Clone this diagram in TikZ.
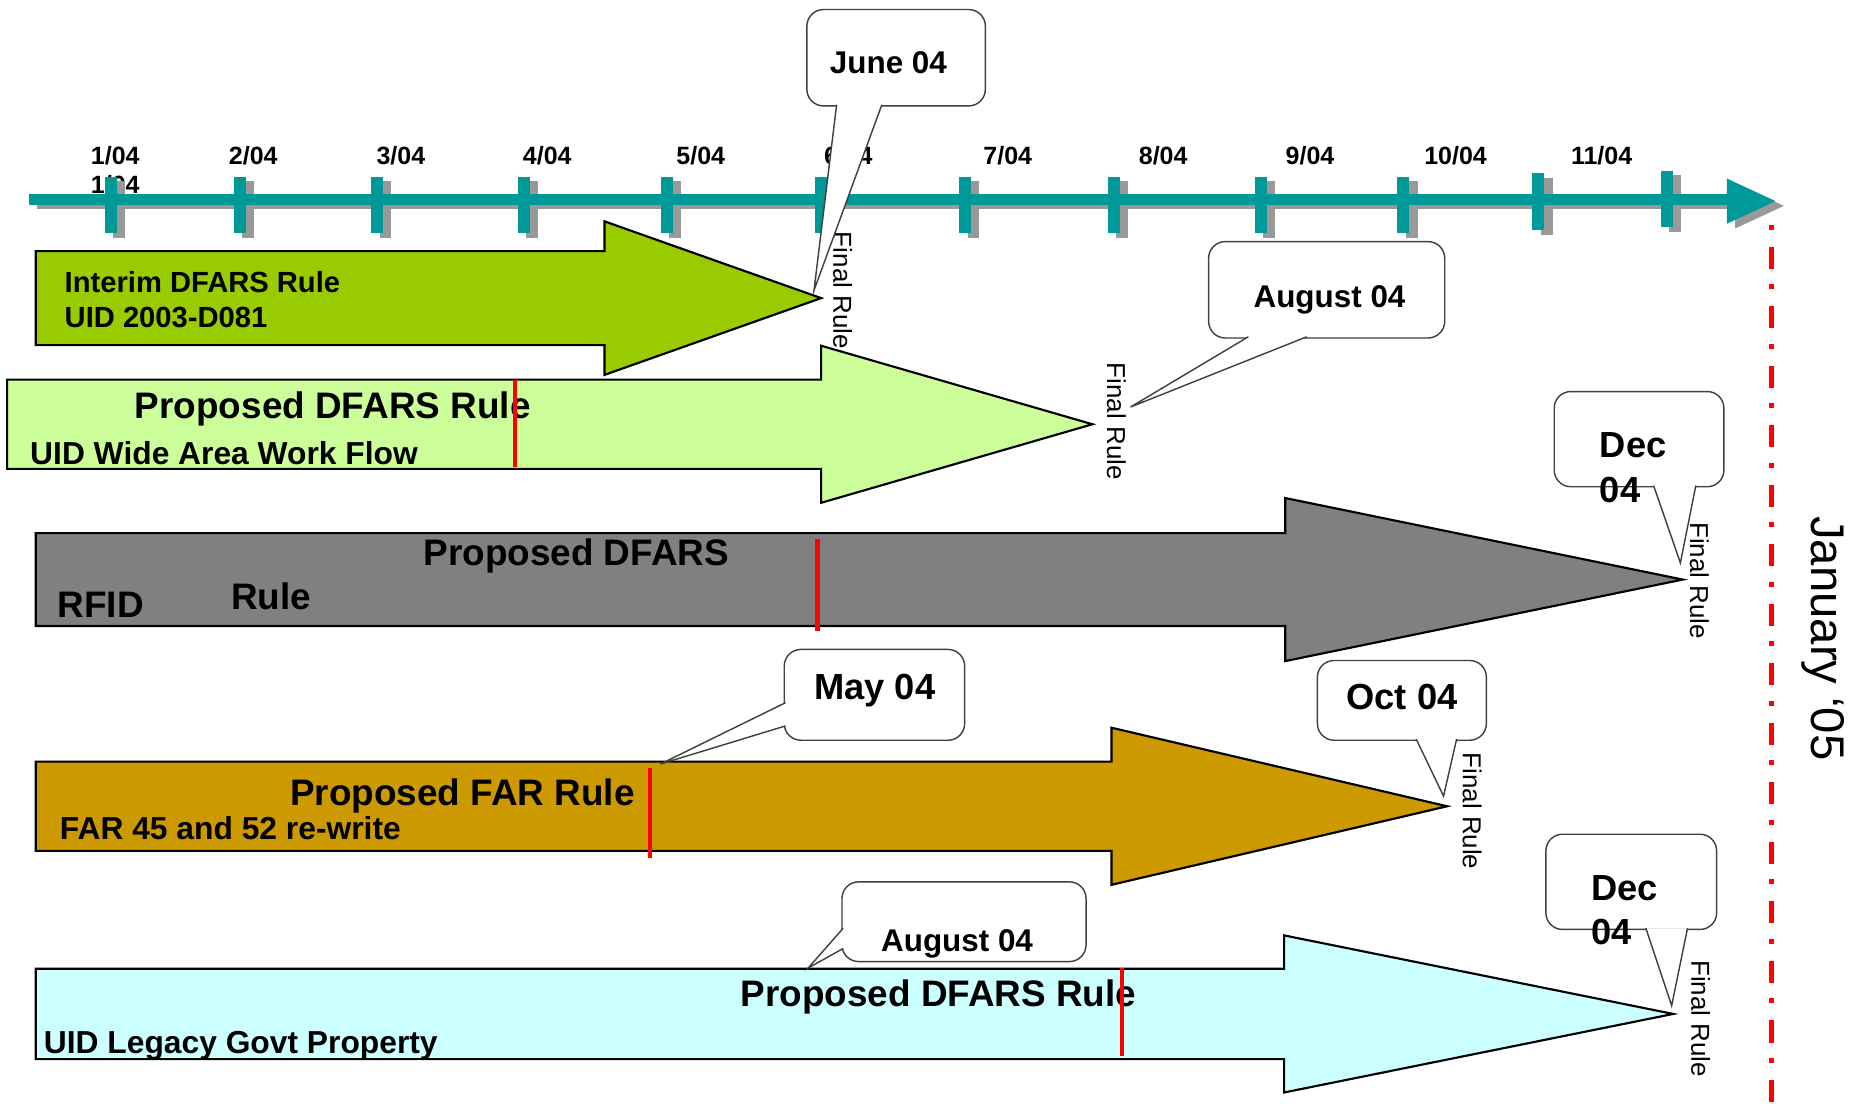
\documentclass[tikz,border=0pt]{standalone}
\usepackage{fontspec}
\setmainfont{Liberation Sans}
\definecolor{axisteal}{HTML}{009999}
\definecolor{interim}{HTML}{99CC00}
\definecolor{widearea}{HTML}{CCFF99}
\definecolor{rfidgrey}{HTML}{808080}
\definecolor{fargold}{HTML}{CC9900}
\definecolor{legacy}{HTML}{CCFFFF}
\begin{document}
\begin{tikzpicture}[x=0.5pt,y=-0.5pt,
  axshadow/.style={fill=black!40},
  axfill/.style={fill=axisteal},
  blk/.style={draw=black,line width=0.9pt},
  marker/.style={draw=red,line width=1.8pt},
  callbox/.style={draw=black!75,fill=white,line width=0.6pt,rounded corners=7pt},
  callptr/.style={draw=black!75,fill=white,line width=0.6pt},
  month/.style={font=\bfseries\fontsize{10.5}{12}\selectfont,anchor=base west,inner sep=0pt},
  titletxt/.style={font=\bfseries\fontsize{15.5}{18}\selectfont,anchor=base west,inner sep=0pt},
  subtxt/.style={font=\bfseries\fontsize{13.35}{16}\selectfont,anchor=base west,inner sep=0pt},
  smalltxt/.style={font=\bfseries\fontsize{12.25}{14}\selectfont,anchor=base west,inner sep=0pt},
  datetxt/.style={font=\bfseries\fontsize{13.2}{15}\selectfont,anchor=base west,inner sep=0pt},
  bigdate/.style={font=\bfseries\fontsize{15.25}{18}\selectfont,anchor=base west,inner sep=0pt},
  finalrule/.style={font=\fontsize{10.9}{12}\selectfont,rotate=-90,inner sep=0pt}]
\def\blockarrow#1#2#3#4#5#6#7{\filldraw[blk,fill=#1] (#2,#3) -- (#5,#3) -- (#5,{(#3+#4)/2-#6}) -- (#7,{(#3+#4)/2}) -- (#5,{(#3+#4)/2+#6}) -- (#5,#4) -- (#2,#4) -- cycle;}
\def\calldown#1#2#3#4#5#6#7{\draw[callbox] (#1,#2) rectangle (#3,#4); \filldraw[callptr] (#5,#4-1) -- (#7) -- (#6,#4-1);}
\def\callleft#1#2#3#4#5#6#7{\draw[callbox] (#1,#2) rectangle (#3,#4); \filldraw[callptr] (#1+1,#5) -- (#7) -- (#1+1,#6);}
\useasboundingbox (0,0) rectangle (1568,927);
\foreach \x/\m in {76/1,192/2,316/3,439/4,568/5,692/6,826/7,956.6/8,1080/9,1196.4/10,1319.7/11}
  \node[month] (m\m) at (\x,138) {\m/04};
\node[month] (m1b) at (76,163) {1/04};
\fill[axshadow] (31,167) rectangle (1458,176);
\foreach \x/\t/\b in {93/148.5/196,201.6/148.5/196,316.9/148.5/196,440.4/148.5/196,560.5/148.5/196,689.8/148.5/196,811/148.5/196,936/148.5/196,1059.7/148.5/196,1179.3/148.5/196,1292.7/145.7/193.3,1400.4/143.4/191}
  \fill[axshadow] (\x+2,\t+4) rectangle (\x+12,\b+4);
\fill[axshadow] (1458,154) -- (1499,173) -- (1458,192) -- cycle;
\fill[axfill] (24,163) rectangle (1452,172);
\foreach \x/\t/\b in {93/148.5/196,201.6/148.5/196,316.9/148.5/196,440.4/148.5/196,560.5/148.5/196,689.8/148.5/196,811/148.5/196,936/148.5/196,1059.7/148.5/196,1179.3/148.5/196,1292.7/145.7/193.3,1400.4/143.4/191}
  \fill[axfill] (\x-5,\t) rectangle (\x+5,\b);
\fill[axfill] (1451,150) -- (1492,169) -- (1451,188) -- cycle;
\blockarrow{interim}{30}{211}{290}{508}{64.5}{690}
\blockarrow{widearea}{6}{319}{394}{690}{66}{918}
\blockarrow{rfidgrey}{30}{448}{526}{1080}{68.5}{1414}
\blockarrow{fargold}{30}{640}{715}{934}{66}{1216}
\blockarrow{legacy}{30}{814}{890}{1079}{66}{1406}
\node[smalltxt] (intr) at (54,246) {Interim DFARS Rule};
\node[smalltxt] (uid) at (54,275.5) {UID 2003-D081};
\node[titletxt] (pdr) at (113,351.5) {Proposed DFARS Rule};
\node[subtxt] (wide) at (25,390) {UID Wide Area Work Flow};
\node[titletxt] (pdf) at (355.5,475.5) {Proposed DFARS};
\node[titletxt] (rfid) at (48,519) {RFID};
\node[titletxt] (rfrule) at (194,512) {Rule};
\node[titletxt] (far) at (243.6,677) {Proposed FAR Rule};
\node[subtxt] (farsub) at (50,705) {FAR 45 and 52 re-write};
\node[titletxt] (pdl) at (622,846) {Proposed DFARS Rule};
\node[subtxt] (lgcy) at (36.5,885) {UID Legacy Govt Property};
\draw[marker] (433,319) -- (433,392);
\draw[marker] (687,453) -- (687,530);
\draw[marker] (546,645) -- (546,721);
\draw[marker] (943,813) -- (943,887);
\node[finalrule] (fr1) at (708,244) {Final Rule};
\node[finalrule] (fr2) at (938,354) {Final Rule};
\node[finalrule] (fr3) at (1428,488) {Final Rule};
\node[finalrule] (fr4) at (1237,681.5) {Final Rule};
\node[finalrule] (fr5) at (1429,856) {Final Rule};
\calldown{678}{8}{828}{89}{703}{741}{684,244}
\calldown{1015.6}{203}{1214}{284}{1049}{1098}{950,342}
\calldown{1306}{329}{1448.6}{409}{1389.5}{1425}{1412,473}
\callleft{659}{545.7}{810.6}{622}{590.5}{610}{555,642}
\calldown{1107}{555}{1249}{622}{1190}{1224}{1213,669}
\callleft{707.5}{741}{912.6}{808}{780}{797}{679,813.5}
\calldown{1299}{701}{1442.5}{781}{1383}{1418}{1404.7,845}
\node[datetxt] (jun) at (697,62) {June 04};
\node[datetxt] (auga) at (1053,258) {August 04};
\node[bigdate] (deca) at (1344,384.5) {Dec};
\node[bigdate] (decan) at (1344,422.5) {04};
\node[bigdate] (may) at (683.8,587.5) {May 04};
\node[bigdate] (oct) at (1131,596.5) {Oct 04};
\node[datetxt] (augb) at (740,799.5) {August 04};
\node[bigdate] (decb) at (1337,757) {Dec};
\node[bigdate] (decbn) at (1337,794) {04};
\draw[red,line width=2pt,dash pattern=on 2pt off 7.25pt on 9.25pt off 6.5pt] (1488.5,189) -- (1488.5,927);
\node[font=\fontsize{19.85}{22}\selectfont,rotate=-90,anchor=base,inner sep=0pt] (jan) at (1522,536.5) {January ‘05};
\end{tikzpicture}
\end{document}
